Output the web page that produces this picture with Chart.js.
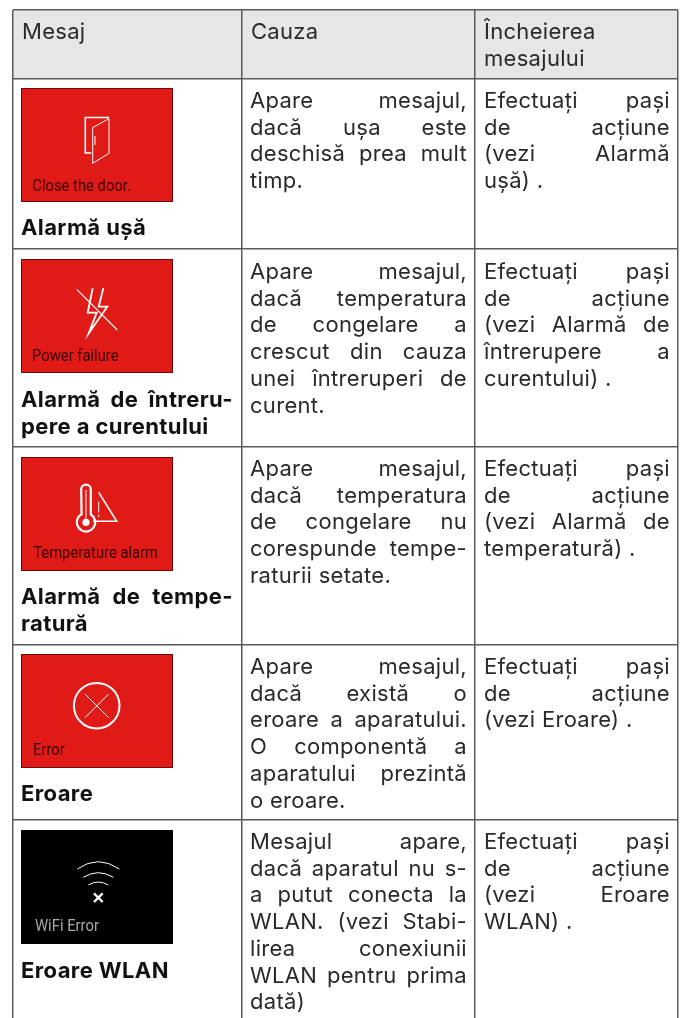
<!DOCTYPE html>
<html>
<head>
<meta charset="utf-8">
<script src="https://cdn.jsdelivr.net/npm/chart.js@4"></script>
<style>
  html, body { margin: 0; padding: 0; background: #fff; overflow: hidden; }
  canvas { display: block; }
</style>
</head>
<body>
<canvas id="tableChart" width="680" height="1018"></canvas>
<script>
const headers = [["Mesaj"], ["Cauza"], ["Încheierea", "mesajului"]];

const screenLabels = ["Close the door.", "Power failure", "Temperature alarm", "Error", "WiFi Error"];

const messageTitles = [
    ["Alarmă ușă"],
    ["Alarmă de întreru-", "pere a curentului"],
    ["Alarmă de tempe-", "ratură"],
    ["Eroare"],
    ["Eroare WLAN"]
];

const causes = [
    ["Apare mesajul,", "dacă ușa este", "deschisă prea mult", "timp."],
    ["Apare mesajul,", "dacă temperatura", "de congelare a", "crescut din cauza", "unei întreruperi de", "curent."],
    ["Apare mesajul,", "dacă temperatura", "de congelare nu", "corespunde tempe-", "raturii setate."],
    ["Apare mesajul,", "dacă există o", "eroare a aparatului.", "O componentă a", "aparatului prezintă", "o eroare."],
    ["Mesajul apare,", "dacă aparatul nu s-", "a putut conecta la", "WLAN. (vezi Stabi-", "lirea conexiunii", "WLAN pentru prima", "dată)"]
];

const endings = [
    ["Efectuați pași", "de acțiune", "(vezi Alarmă", "ușă) ."],
    ["Efectuați pași", "de acțiune", "(vezi Alarmă de", "întrerupere a", "curentului) ."],
    ["Efectuați pași", "de acțiune", "(vezi Alarmă de", "temperatură) ."],
    ["Efectuați pași", "de acțiune", "(vezi Eroare) ."],
    ["Efectuați pași", "de acțiune", "(vezi Eroare", "WLAN) ."]
];

// table layout, in page pixels (the axes run 1:1 with the page)
const columnEdges = [13, 242, 475, 678];
const rowEdges = [10, 79, 249, 447, 645, 820];
const textBaselines = [108, 279, 476, 674, 849];
const panelTops = [88, 259, 457, 654, 830];
const titleBaselines = [235, 407, 604, 801, 978];
const PANEL_W = 152, PANEL_H = 114, LINE_H = 26.7;
const BODY_FONT = "400 22px Inter", BOLD_FONT = "700 22px Inter";

function drawLines(ctx, lines, left, right, baseline, font, color, spacing) {
    ctx.font = font;
    ctx.letterSpacing = spacing;
    ctx.fillStyle = color;
    ctx.textBaseline = "alphabetic";
    ctx.textAlign = "left";
    lines.forEach((line, i) => {
        const y = baseline + i * LINE_H;
        const words = line.split(" ");
        // last line stays left aligned, the rest are justified
        if (i === lines.length - 1 || words.length < 2 || right === null) {
            ctx.fillText(line, left, y);
            return;
        }
        const used = words.reduce((sum, w) => sum + ctx.measureText(w).width, 0);
        const gap = (right - left - used) / (words.length - 1);
        let x = left;
        words.forEach(w => {
            ctx.fillText(w, x, y);
            x += ctx.measureText(w).width + gap;
        });
    });
    ctx.letterSpacing = "0px";
}

function poly(ctx, pts, close) {
    ctx.beginPath();
    pts.forEach((p, i) => i ? ctx.lineTo(p[0], p[1]) : ctx.moveTo(p[0], p[1]));
    if (close) ctx.closePath();
    ctx.stroke();
}

// icons are drawn relative to the panel corner
const icons = [
    ctx => {
        ctx.lineWidth = 1.6;
        poly(ctx, [[70.3, 65], [64.3, 65], [64.3, 29.5], [88, 29.5]]);
        ctx.lineWidth = 1;
        poly(ctx, [[71.7, 39.7], [88, 30.5], [88, 65.3], [71.7, 75.3]], true);
        poly(ctx, [[74, 48], [74, 57]]);
    },
    ctx => {
        ctx.lineWidth = 1.8;
        poly(ctx, [[71.7, 29.3], [66.7, 53.7], [75.7, 53.7], [67.7, 74.3], [86.3, 47.7], [77.7, 47.7], [82.3, 29.3]]);
        ctx.lineWidth = 1.1;
        poly(ctx, [[55.7, 30.3], [96.3, 71]]);
    },
    ctx => {
        ctx.lineWidth = 2.2;
        ctx.beginPath();
        ctx.arc(65, 32.5, 4.8, Math.PI, 0);
        ctx.lineTo(69.8, 57.5);
        ctx.arc(65, 65.3, 9.2, -Math.PI * 0.34, Math.PI * 1.34);
        ctx.closePath();
        ctx.stroke();
        ctx.beginPath();
        ctx.arc(65, 65.3, 3.6, 0, Math.PI * 2);
        ctx.fill();
        ctx.lineWidth = 1;
        poly(ctx, [[65, 33], [65, 62]]);
        ctx.lineWidth = 1.6;
        poly(ctx, [[77.7, 35.3], [95.7, 64.3], [72, 64.3]]);
        ctx.lineWidth = 1;
        poly(ctx, [[77.7, 44.7], [77.7, 55.5]]);
        poly(ctx, [[77.7, 57.5], [77.7, 60]]);
    },
    ctx => {
        ctx.lineWidth = 2;
        ctx.beginPath();
        ctx.arc(75.7, 51.7, 22.8, 0, Math.PI * 2);
        ctx.stroke();
        ctx.lineWidth = 1;
        poly(ctx, [[64, 40], [87.7, 63.7]]);
        poly(ctx, [[87.7, 40], [64, 63.7]]);
    },
    ctx => {
        ctx.lineWidth = 1;
        [[56.3, 39, 24.4], [62.3, 47.3, 38.1], [67.3, 55, 49]].forEach(a => {
            ctx.beginPath();
            ctx.moveTo(a[0], a[1]);
            ctx.quadraticCurveTo(77.3, a[2], 154.6 - a[0], a[1]);
            ctx.stroke();
        });
        ctx.lineWidth = 2.4;
        poly(ctx, [[73, 63.4], [81.6, 72]]);
        poly(ctx, [[81.6, 63.4], [73, 72]]);
    }
];

const labelOffsets = [[11.3, 102.7], [11, 101.7], [12.2, 101], [12, 101], [14, 101]];

const tablePlugin = {
    id: "tablePlugin",
    beforeDraw(chart) {
        const ctx = chart.ctx;
        const x = chart.scales.x, y = chart.scales.y;
        ctx.save();
        ctx.fillStyle = "#e5e6e8";
        ctx.fillRect(x.left, y.top, x.right - x.left, y.getPixelForValue(rowEdges[1]) - y.top);
        ctx.restore();
    },
    afterDraw(chart) {
        const ctx = chart.ctx;
        const x = chart.scales.x, y = chart.scales.y;
        const textColor = "#2a2a2a";
        ctx.save();

        // header row
        headers.forEach((lines, c) => {
            drawLines(ctx, lines, x.getPixelForValue(columnEdges[c]) + 9, null, y.getPixelForValue(39), BODY_FONT, textColor, "0.3px");
        });

        const firstRight = x.getPixelForValue(columnEdges[1]) - 9;
        const causeLeft = x.getPixelForValue(columnEdges[1]) + 8;
        const causeRight = x.getPixelForValue(columnEdges[2]) - 8;
        const endLeft = x.getPixelForValue(columnEdges[2]) + 9;
        const endRight = x.getPixelForValue(columnEdges[3]) - 8;

        messageTitles.forEach((title, r) => {
            const px = x.getPixelForValue(columnEdges[0]) + 8;
            const py = y.getPixelForValue(panelTops[r]);
            const black = r === 4;

            ctx.fillStyle = black ? "#000" : "#e01a17";
            ctx.fillRect(px, py, PANEL_W, PANEL_H);
            if (!black) {
                ctx.strokeStyle = "#6e0808";
                ctx.lineWidth = 1;
                ctx.strokeRect(px + 0.5, py + 0.5, PANEL_W - 1, PANEL_H - 1);
            }

            ctx.save();
            ctx.translate(px, py);
            ctx.strokeStyle = "#fff";
            ctx.fillStyle = "#fff";
            icons[r](ctx);
            // no condensed Roboto here, so squeeze the regular one
            ctx.translate(labelOffsets[r][0], labelOffsets[r][1]);
            ctx.scale(0.87, 1);
            ctx.font = "400 17px Roboto";
            ctx.fillStyle = black ? "#a8a8a8" : "#3a0404";
            ctx.fillText(screenLabels[r], 0, 0);
            ctx.restore();

            drawLines(ctx, title, px, firstRight, y.getPixelForValue(titleBaselines[r]), BOLD_FONT, "#111", "0.4px");
            drawLines(ctx, causes[r], causeLeft, causeRight, y.getPixelForValue(textBaselines[r]), BODY_FONT, textColor, "0.3px");
            drawLines(ctx, endings[r], endLeft, endRight, y.getPixelForValue(textBaselines[r]), BODY_FONT, textColor, "0.3px");
        });
        ctx.restore();
    }
};

function edgeAxis(edges, extra) {
    return Object.assign({
        type: "linear",
        min: edges[0],
        afterBuildTicks: axis => { axis.ticks = edges.map(value => ({ value })); },
        grid: { color: "#5a5a5a", lineWidth: 1.5, drawTicks: false },
        border: { display: false },
        ticks: { display: false }
    }, extra);
}

new Chart(document.getElementById("tableChart").getContext("2d"), {
    type: "scatter",
    data: { datasets: [{ data: [] }] },
    options: {
        responsive: false,
        animation: false,
        layout: { padding: { left: 13, right: 2, top: 10, bottom: 0 } },
        scales: {
            x: edgeAxis(columnEdges, { max: 678 }),
            y: edgeAxis(rowEdges, { max: 1018, reverse: true })
        },
        plugins: { legend: { display: false }, tooltip: { enabled: false } }
    },
    plugins: [tablePlugin]
});
</script>
</body>
</html>
